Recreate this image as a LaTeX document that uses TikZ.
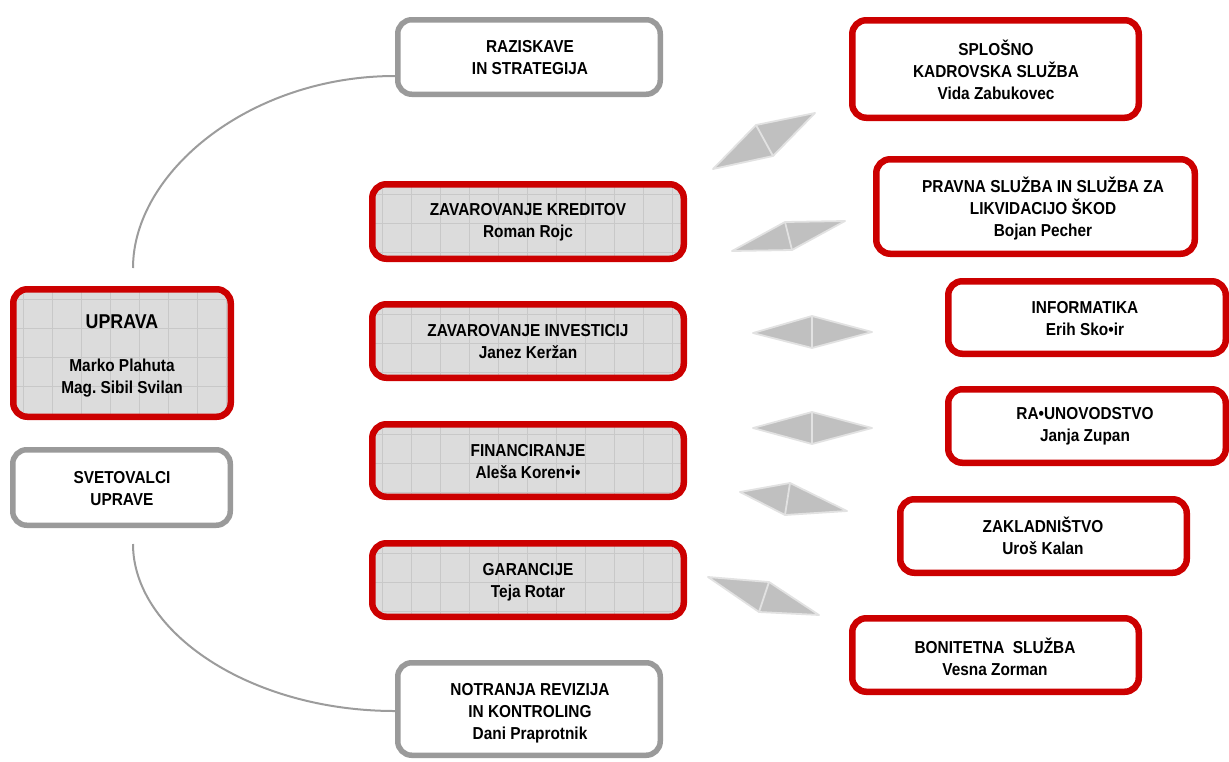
\documentclass[tikz,border=0pt]{standalone}
\usepackage{fontspec}
\newfontfamily\boxfont[FakeStretch=0.89]{Liberation Sans}
\usetikzlibrary{calc}
\definecolor{boxred}{HTML}{CC0000}
\definecolor{boxgray}{HTML}{9A9A9A}
\definecolor{gridbg}{HTML}{DCDCDC}
\definecolor{gridln}{HTML}{C8C8C8}
\definecolor{arrfill}{HTML}{C0C0C0}
\definecolor{arredge}{HTML}{E2E2E2}
\definecolor{arcgray}{HTML}{9C9C9C}
\tikzset{
  boxbase/.style={rectangle, rounded corners=14pt, inner sep=0pt, fill=white},
  redbox/.style={boxbase, draw=boxred, line width=6.5pt},
  graybox/.style={boxbase, draw=boxgray, line width=5.5pt},
  gridded/.style={fill=gridbg, path picture={
      \foreach \i in {0,...,12}{
        \draw[gridln, line width=0.7pt] ([xshift=\i*29pt+10pt]path picture bounding box.north west) -- ([xshift=\i*29pt+10pt]path picture bounding box.south west);
      }
      \foreach \j in {0,...,5}{
        \draw[gridln, line width=0.7pt] ([yshift=-\j*29pt-10pt]path picture bounding box.north west) -- ([yshift=-\j*29pt-10pt]path picture bounding box.north east);
      }
    }},
  lbl/.style={font=\boxfont\bfseries\fontsize{17.3}{22}\selectfont, align=center, text=black, inner sep=0pt},
  biglbl/.style={font=\boxfont\bfseries\fontsize{20}{24}\selectfont, align=center, text=black, inner sep=0pt},
  arcline/.style={draw=arcgray, line width=2pt},
  arrowshape/.style={fill=arrfill, draw=arredge, line width=1.8pt, line join=round},
  arrowmid/.style={draw=arredge, line width=1.8pt},
}
\begin{document}
\begin{tikzpicture}[x=1pt,y=-1pt]
\useasboundingbox (0,0) rectangle (1229,761);

\coordinate (arcA) at (133,268);
\coordinate (arcB) at (133,544);

% boxes
\node[graybox, minimum width=262.5pt, minimum height=74.5pt] (raz) at (529,57) {};
\node[redbox, minimum width=286.5pt, minimum height=97.5pt] (spl) at (995.5,69) {};
\node[redbox, minimum width=318.5pt, minimum height=94.5pt] (prav) at (1035.5,206.5) {};
\node[redbox, minimum width=277.5pt, minimum height=72.5pt] (info) at (1087,317.5) {};
\node[redbox, minimum width=277.5pt, minimum height=73.5pt] (raun) at (1087,426) {};
\node[redbox, minimum width=286.5pt, minimum height=73.5pt] (zakl) at (1043.5,536) {};
\node[redbox, minimum width=286.5pt, minimum height=73.5pt] (bon) at (995.5,655) {};
\node[redbox, gridded, minimum width=311.5pt, minimum height=74.5pt] (kred) at (528,221.5) {};
\node[redbox, gridded, minimum width=311.5pt, minimum height=73.5pt] (inv) at (528,341) {};
\node[redbox, gridded, minimum width=311.5pt, minimum height=72.5pt] (fin) at (528,460.5) {};
\node[redbox, gridded, minimum width=311.5pt, minimum height=73.5pt] (gar) at (528,580) {};
\node[redbox, gridded, minimum width=217.5pt, minimum height=127.5pt] (uprava) at (122,353) {};
\node[graybox, minimum width=217.5pt, minimum height=75.5pt] (svet) at (121.5,487.5) {};
\node[graybox, minimum width=262.5pt, minimum height=92.5pt] (notr) at (529,709) {};

% connecting arcs
\draw[arcline] (arcA) .. controls (133,172) and (250,76) .. ($(raz.west)+(0,19)$);
\draw[arcline] (arcB) .. controls (133,632) and (250,711) .. ($(notr.west)+(0,2)$);

% labels
\node[lbl] (razT) at (530,58) {RAZISKAVE\\IN STRATEGIJA};
\node[lbl] (splT) at (996,69.5) {SPLOŠNO\\KADROVSKA SLUŽBA\\Vida Zabukovec};
\node[lbl] (pravT) at (1043,209) {PRAVNA SLUŽBA IN SLUŽBA ZA\\LIKVIDACIJO ŠKOD\\Bojan Pecher};
\node[lbl] (infoT) at (1085,319) {INFORMATIKA\\Erih Sko•ir};
\node[lbl] (raunT) at (1085,426.5) {RA•UNOVODSTVO\\Janja Zupan};
\node[lbl] (zaklT) at (1043,536) {ZAKLADNIŠTVO\\Uroš Kalan};
\node[lbl] (bonT) at (995,657) {BONITETNA\ \ SLUŽBA\\Vesna Zorman};
\node[lbl] (kredT) at (528,222.5) {ZAVAROVANJE KREDITOV\\Roman Rojc};
\node[lbl] (invT) at (528,342) {ZAVAROVANJE INVESTICIJ\\Janez Keržan};
\node[lbl] (finT) at (528,462) {FINANCIRANJE\\Aleša Koren•i•};
\node[lbl] (garT) at (528,582) {GARANCIJE\\Teja Rotar};
\node[biglbl] (upravaT) at (122,322) {UPRAVA};
\node[lbl] (upravaN) at (122,378) {Marko Plahuta\\Mag.\ Sibil Svilan};
\node[lbl] (svetT) at (122,488.5) {SVETOVALCI\\UPRAVE};
\node[lbl] (notrT) at (530,713) {NOTRANJA REVIZIJA\\IN KONTROLING\\Dani Praprotnik};

% gray diamond pointers
\foreach \l/\t/\r/\b in {
  {713,169}/{756,125}/{815,113}/{773,156},
  {732,251}/{785,222}/{845,221}/{792,250},
  {753,333}/{812,316}/{872,332}/{812,348},
  {753,428}/{812,412}/{872,428}/{812,444},
  {740,492}/{790,483}/{847,511}/{785,515},
  {708,577}/{769,582}/{819,615}/{759,612}}{
  \draw[arrowshape] (\l) -- (\t) -- (\r) -- (\b) -- cycle;
  \draw[arrowmid] (\t) -- (\b);
}
\end{tikzpicture}
\end{document}
